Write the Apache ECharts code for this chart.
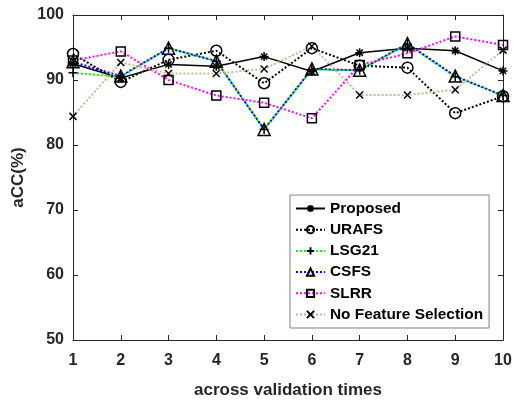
<!DOCTYPE html>
<html>
<head>
<meta charset="utf-8">
<script src="https://cdn.jsdelivr.net/npm/echarts@6/dist/echarts.min.js"></script>
<style>html,body{margin:0;padding:0;background:#fff;}#c{width:514px;height:401px;}</style>
</head>
<body>
<div id="c"></div>
<script>
var xValues = [1, 2, 3, 4, 5, 6, 7, 8, 9, 10];
var proposed = [92.5, 90.3, 92.4, 92.1, 93.6, 91.3, 94.2, 94.9, 94.5, 91.4];
var urafs    = [94.0, 89.7, 93.1, 94.5, 89.5, 94.9, 92.2, 91.9, 84.9, 87.5];
var lsg21    = [91.1, 90.5, 94.9, 92.9, 82.4, 91.6, 91.5, 95.5, 90.5, 87.6];
var csfs     = [92.8, 90.6, 94.9, 92.9, 82.4, 91.7, 91.5, 95.6, 90.6, 87.6];
var slrr     = [93.0, 94.4, 90.0, 87.6, 86.5, 84.1, 92.3, 94.1, 96.7, 95.4];
var nfs      = [84.4, 92.7, 91.0, 91.0, 91.7, 95.2, 87.7, 87.7, 88.5, 94.6];

function pairs(arr){ return arr.map(function(v,i){ return [xValues[i], v]; }); }

var font = '"Liberation Sans", Arial, sans-serif';
var axisColor = '#262626';
var FONT_W = 'bold';

function mkSeries(name, data, color, lineType, width, symbol, size, filled){
  return {
    name: name, type: 'line', data: pairs(data),
    symbol: symbol, symbolSize: size,
    lineStyle: {color: color, type: lineType, width: width},
    itemStyle: {color: filled ? '#000' : 'rgba(0,0,0,0)', borderColor: '#000', borderWidth: 1.5},
    emphasis: {disabled: true},
    z: 2
  };
}

var chart = echarts.init(document.getElementById('c'), null, {renderer: 'canvas'});
var axisCommon = {
  type: 'value', min: 1, max: 10, interval: 1,
  axisLine: {show: true, onZero: false, lineStyle: {color: axisColor, width: 1}},
  axisTick: {show: true, inside: true, length: 5, lineStyle: {color: axisColor}},
  splitLine: {show: false}
};
chart.setOption({
  animation: false,
  backgroundColor: '#fff',
  grid: {left: 73, top: 15, right: 11, bottom: 61, containLabel: false, outerBoundsMode: 'none'},
  xAxis: [
    Object.assign({}, axisCommon, {
      position: 'bottom',
      name: 'across validation times', nameLocation: 'middle', nameGap: 42,
      nameTextStyle: {fontFamily: font, fontWeight: FONT_W, fontSize: 17, color: axisColor},
      axisLabel: {fontFamily: font, fontWeight: FONT_W, fontSize: 16, color: axisColor, margin: 13}
    }),
    Object.assign({}, axisCommon, {position: 'top', axisLabel: {show: false}})
  ],
  yAxis: [
    {
      type: 'value', min: 50, max: 100, interval: 10, position: 'left',
      name: 'aCC(%)', nameLocation: 'middle', nameGap: 42,
      nameTextStyle: {fontFamily: font, fontWeight: FONT_W, fontSize: 17, color: axisColor},
      axisLine: {show: true, onZero: false, lineStyle: {color: axisColor, width: 1}},
      axisTick: {show: true, inside: true, length: 5, lineStyle: {color: axisColor}},
      axisLabel: {fontFamily: font, fontWeight: FONT_W, fontSize: 16, color: axisColor, margin: 9},
      splitLine: {show: false}
    },
    {
      type: 'value', min: 50, max: 100, interval: 10, position: 'right',
      axisLine: {show: true, onZero: false, lineStyle: {color: axisColor, width: 1}},
      axisTick: {show: true, inside: true, length: 5, lineStyle: {color: axisColor}},
      axisLabel: {show: false},
      splitLine: {show: false}
    }
  ],
  legend: {
    orient: 'vertical', left: 290, top: 195,
    padding: [6, 6, 6, 5], itemGap: 6.2, itemWidth: 29, itemHeight: 9,
    backgroundColor: '#fff', borderColor: '#7f7f7f', borderWidth: 1,
    textStyle: {fontFamily: font, fontWeight: 'bold', fontSize: 15.4, color: '#000'},
    selectedMode: false,
    data: ['Proposed', 'URAFS', 'LSG21', 'CSFS', 'SLRR', 'No Feature Selection']
  },
  series: [
    mkSeries('Proposed', proposed, '#000', 'solid', 1.5,
      'path://M0,-10L0,10M-10,0L10,0M-7,-7L7,7M-7,7L7,-7', 9, true),
    mkSeries('URAFS', urafs, '#000', 'dotted', 2, 'circle', 11, false),
    mkSeries('LSG21', lsg21, '#00ff00', 'dotted', 2, 'path://M0,-10L0,10M-10,0L10,0', 9, true),
    mkSeries('CSFS', csfs, '#0000ff', 'dotted', 2, 'triangle', 12, false),
    mkSeries('SLRR', slrr, '#ff00ff', 'dotted', 2, 'rect', 9, false),
    mkSeries('No Feature Selection', nfs, '#d2b48c', 'dotted', 2, 'path://M-10,-10L10,10M-10,10L10,-10', 7, true)
  ]
});
</script>
</body>
</html>
